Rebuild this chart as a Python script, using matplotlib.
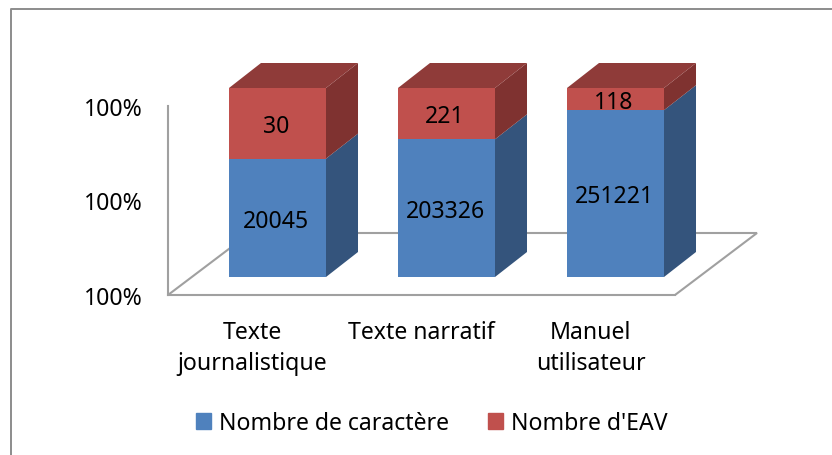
import matplotlib

matplotlib.use("Agg")
import matplotlib.pyplot as plt
from matplotlib.lines import Line2D
from matplotlib.patches import Patch, Polygon
from matplotlib.transforms import Affine2D

categories = ["Texte\njournalistique", "Texte narratif", "Manuel\nutilisateur"]
nb_caracteres = [20045, 203326, 251221]
nb_eav = [30, 221, 118]
tick_values = [0.996, 0.998, 1.0]
tick_labels = ["100%", "100%", "100%"]

BLUE, BLUE_SIDE = "#4f81bd", "#34547c"
RED, RED_SIDE, RED_TOP = "#c0504d", "#7f3230", "#8f3b39"
GREY = "#a0a0a0"
W, H = 832, 456
BAR_W = 0.574
DEPTH = (32, 25)  # px, depth of the 3d bars
FLOOR = (82, 62)  # px, depth of the floor

plt.rcParams["font.family"] = ["Noto Sans", "DejaVu Sans"]
plt.rcParams["font.size"] = 16.6

fig = plt.figure(figsize=(W / 100, H / 100), dpi=100)
# chart frame: only the left and top edges fall inside the picture
fig.add_artist(
    Line2D([11 / W, 11 / W, 1], [0, 1 - 10 / H, 1 - 10 / H], color="#8c8c8c", lw=1.4)
)


def make_axes(left, bottom_y):
    # pixels measured from the top left corner of the picture
    ax = fig.add_axes([left / W, 1 - bottom_y / H, 507 / W, 189 / H])
    ax.set_xlim(-0.5, 2.5)
    ax.set_ylim(tick_values[0], tick_values[-1])
    ax.patch.set_alpha(0)
    return ax


# front plane of the floor: carries the axis lines and the labels
base = make_axes(168, 296)
for side in ["top", "right"]:
    base.spines[side].set_visible(False)
for side in ["left", "bottom"]:
    base.spines[side].set_color(GREY)
    base.spines[side].set_linewidth(1.5)
base.set_yticks(tick_values, tick_labels)
base.set_xticks(range(len(categories)), categories, linespacing=1.41)
base.tick_params(axis="both", length=0)
base.tick_params(axis="y", pad=18)
base.tick_params(axis="x", pad=18)

corners = [(168, H - 296), (168 + FLOOR[0], H - 296 + FLOOR[1]),
           (675 + FLOOR[0], H - 296 + FLOOR[1]), (675, H - 296)]
base.add_patch(
    Polygon(corners, closed=False, transform=None, facecolor="none", edgecolor=GREY,
            linewidth=1.5, clip_on=False)
)

# plane of the bars, set back on the floor
ax = make_axes(193, 278)
ax.axis("off")
shift = ax.transData + Affine2D().translate(*DEPTH)
bx = BAR_W / 2

for i, (blue, red) in enumerate(zip(nb_caracteres, nb_eav)):
    share = blue / (blue + red)
    bottom = tick_values[0]
    ax.bar(i, share - bottom, BAR_W, bottom=bottom, color=BLUE, linewidth=0)
    ax.bar(i, 1 - share, BAR_W, bottom=share, color=RED, linewidth=0)

    # side and top faces: same data corners, pushed back by the depth offset
    for lo, hi, col in [(bottom, share, BLUE_SIDE), (share, 1, RED_SIDE)]:
        p0 = ax.transData.transform([(i + bx, lo), (i + bx, hi)])
        p1 = shift.transform([(i + bx, hi), (i + bx, lo)])
        ax.add_patch(Polygon([*p0, *p1], transform=None, color=col, lw=0, clip_on=False))
    p0 = ax.transData.transform([(i - bx, 1), (i + bx, 1)])
    p1 = shift.transform([(i + bx, 1), (i - bx, 1)])
    ax.add_patch(Polygon([*p0, *p1], transform=None, color=RED_TOP, lw=0, clip_on=False))

    for val, mid in [(blue, (bottom + share) / 2), (red, (share + 1) / 2)]:
        ax.annotate(str(val), (i, mid), xytext=(-1, -2), textcoords="offset points",
                    ha="center", va="center")

handles = [Patch(color=BLUE, label="Nombre de caractère"), Patch(color=RED, label="Nombre d'EAV")]
fig.legend(handles=handles, loc="center", bbox_to_anchor=(432 / W, 1 - 424 / H), ncol=2,
           frameon=False, handlelength=0.65, handleheight=0.65, handletextpad=0.35, columnspacing=1.7)

fig.savefig("out.png", dpi=100)
